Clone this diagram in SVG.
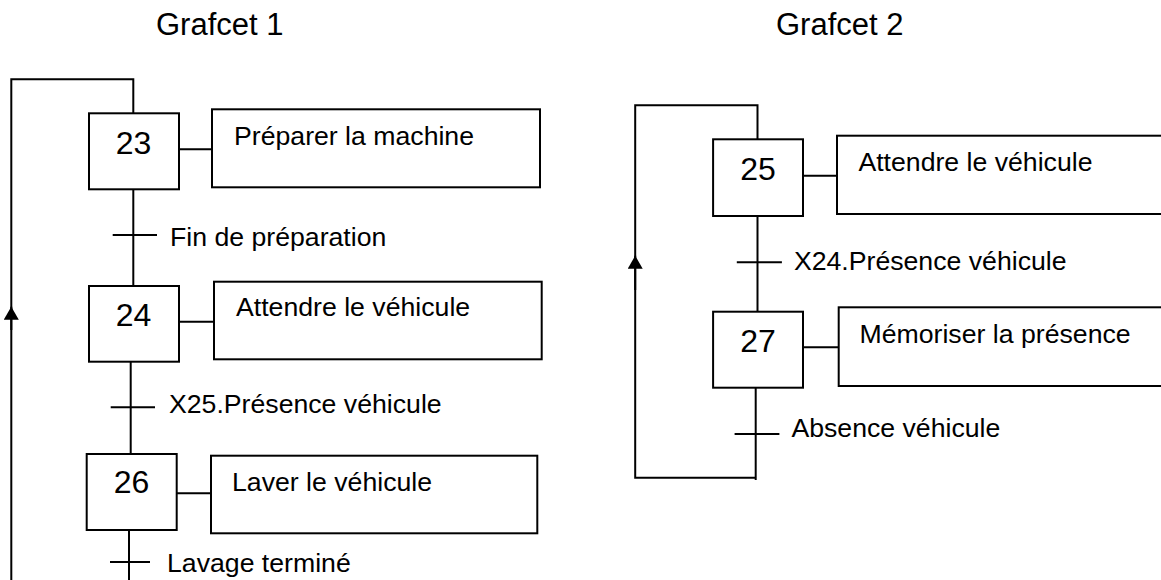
<svg xmlns="http://www.w3.org/2000/svg" width="1161" height="580" viewBox="0 0 1161 580">
<style>
  .ln { stroke: #000; stroke-width: 2; fill: none; }
  .box { stroke: #000; stroke-width: 2; fill: #fff; }
  .t { font-family: "Liberation Sans", Arial, sans-serif; fill: #000; }
  .title { font-size: 31px; }
  .num { font-size: 32px; text-anchor: middle; }
  .lbl { font-size: 26.67px; }
</style>
<defs>
  <marker id="arr" viewBox="0 0 13 15" refX="13" refY="7.5" markerWidth="13" markerHeight="15" markerUnits="userSpaceOnUse" orient="auto">
    <path d="M0,0 L13,7.5 L0,15 z" fill="#000"/>
  </marker>
</defs>
<rect x="0" y="0" width="1161" height="580" fill="#fff"/>

<text class="t title" x="156" y="35">Grafcet 1</text>
<text class="t title" x="776" y="35">Grafcet 2</text>

<g id="connectors">
  <!-- Grafcet 1 -->
  <polyline class="ln" points="11.3,580 11.3,79.3 133.3,79.3 133.3,113.3"/>
  <line class="ln" x1="11.3" y1="330" x2="11.3" y2="306.7" marker-end="url(#arr)"/>
  <line class="ln" x1="179" y1="149.3" x2="212" y2="149.3"/>
  <line class="ln" x1="133.3" y1="189.3" x2="133.3" y2="286"/>
  <line class="ln" x1="112.7" y1="235" x2="157" y2="235"/>
  <line class="ln" x1="179" y1="321.7" x2="214" y2="321.7"/>
  <line class="ln" x1="130.7" y1="361.7" x2="130.7" y2="454"/>
  <line class="ln" x1="110.7" y1="407.3" x2="155" y2="407.3"/>
  <line class="ln" x1="176.7" y1="493.3" x2="211" y2="493.3"/>
  <line class="ln" x1="129" y1="530" x2="129" y2="580"/>
  <line class="ln" x1="110" y1="562" x2="150" y2="562"/>
  <!-- Grafcet 2 -->
  <polyline class="ln" points="755.7,477.7 635.2,477.7 635.2,105.3 757.5,105.3 757.5,139.3"/>
  <line class="ln" x1="635.2" y1="290" x2="635.2" y2="255.7" marker-end="url(#arr)"/>
  <line class="ln" x1="803" y1="175.7" x2="837" y2="175.7"/>
  <line class="ln" x1="757.5" y1="216" x2="757.5" y2="311.7"/>
  <line class="ln" x1="736.8" y1="262.3" x2="781.9" y2="262.3"/>
  <line class="ln" x1="803" y1="347.3" x2="838.7" y2="347.3"/>
  <line class="ln" x1="755.7" y1="387.7" x2="755.7" y2="480"/>
  <line class="ln" x1="734.6" y1="434" x2="779.4" y2="434"/>
</g>

<g id="step23">
  <rect class="box" x="89" y="113.3" width="90" height="76"/>
  <text class="t num" x="133.5" y="154">23</text>
</g>
<g id="action23">
  <rect class="box" x="212" y="109.3" width="328" height="78"/>
  <text class="t lbl" x="234" y="145">Préparer la machine</text>
</g>
<g id="trans23">
  <text class="t lbl" x="170" y="245.5">Fin de préparation</text>
</g>
<g id="step24">
  <rect class="box" x="89" y="286" width="90" height="75.7"/>
  <text class="t num" x="133.5" y="326">24</text>
</g>
<g id="action24">
  <rect class="box" x="214" y="281.7" width="327.7" height="77.6"/>
  <text class="t lbl" x="236" y="316">Attendre le véhicule</text>
</g>
<g id="trans24">
  <text class="t lbl" x="169" y="413.3">X25.Présence véhicule</text>
</g>
<g id="step26">
  <rect class="box" x="86.7" y="454" width="90" height="76"/>
  <text class="t num" x="131.5" y="493.3">26</text>
</g>
<g id="action26">
  <rect class="box" x="211" y="455.7" width="326.3" height="77.6"/>
  <text class="t lbl" x="232" y="490.7">Laver le véhicule</text>
</g>
<g id="trans26">
  <text class="t lbl" x="167" y="571.7">Lavage terminé</text>
</g>

<g id="step25">
  <rect class="box" x="713.1" y="139.3" width="89.9" height="76.7"/>
  <text class="t num" x="758" y="180">25</text>
</g>
<g id="action25">
  <rect class="box" x="837" y="135.7" width="340" height="78.3"/>
  <text class="t lbl" x="858.4" y="171">Attendre le véhicule</text>
</g>
<g id="trans25">
  <text class="t lbl" x="793.9" y="270">X24.Présence véhicule</text>
</g>
<g id="step27">
  <rect class="box" x="713.1" y="311.7" width="89.9" height="76"/>
  <text class="t num" x="758" y="351.7">27</text>
</g>
<g id="action27">
  <rect class="box" x="838.7" y="307.3" width="340" height="78.7"/>
  <text class="t lbl" x="859.5" y="342.7">Mémoriser la présence</text>
</g>
<g id="trans27">
  <text class="t lbl" x="791.4" y="436.7">Absence véhicule</text>
</g>
</svg>
